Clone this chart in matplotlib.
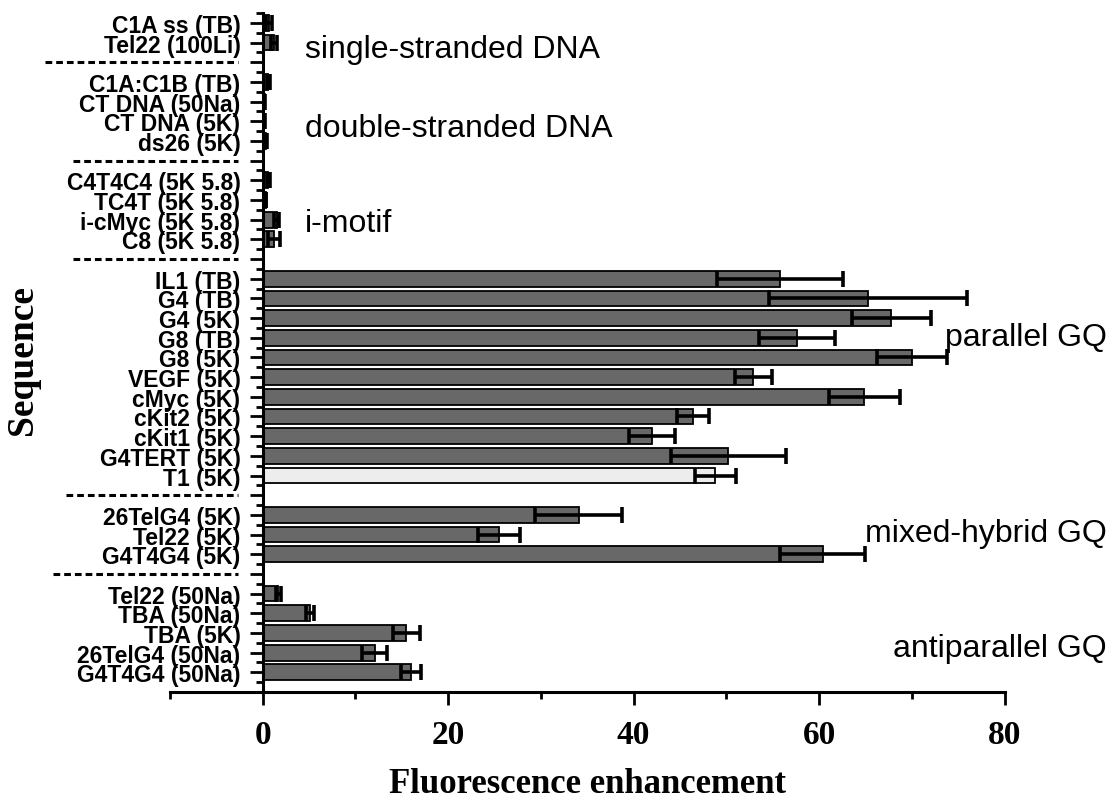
import matplotlib
matplotlib.use("Agg")
import matplotlib.pyplot as plt
from matplotlib.transforms import blended_transform_factory
import numpy as np

# ---------------- data ----------------
labels = [
    "C1A ss (TB)", "Tel22 (100Li)",
    "C1A:C1B (TB)", "CT DNA (50Na)", "CT DNA (5K)", "ds26 (5K)",
    "C4T4C4 (5K 5.8)", "TC4T (5K 5.8)", "i-cMyc (5K 5.8)", "C8 (5K 5.8)",
    "IL1 (TB)", "G4 (TB)", "G4 (5K)", "G8 (TB)", "G8 (5K)", "VEGF (5K)",
    "cMyc (5K)", "cKit2 (5K)", "cKit1 (5K)", "G4TERT (5K)", "T1 (5K)",
    "26TelG4 (5K)", "Tel22 (5K)", "G4T4G4 (5K)",
    "Tel22 (50Na)", "TBA (50Na)", "TBA (5K)", "26TelG4 (50Na)", "G4T4G4 (50Na)",
]
values = [
    0.7, 1.2,
    0.6, 0.2, 0.15, 0.35,
    0.6, 0.35, 1.5, 1.25,
    55.8, 65.3, 67.8, 57.6, 70.0, 52.9,
    64.9, 46.4, 42.0, 50.2, 48.8,
    34.1, 25.5, 60.4,
    1.7, 5.1, 15.5, 12.1, 16.0,
]
errors = [
    0.3, 0.35,
    0.15, 0.05, 0.05, 0.1,
    0.15, 0.05, 0.3, 0.65,
    6.8, 10.7, 4.3, 4.1, 3.8, 2.0,
    3.8, 1.7, 2.5, 6.2, 2.2,
    4.7, 2.3, 4.6,
    0.3, 0.4, 1.5, 1.35, 1.05,
]
group_sizes = [2, 4, 4, 11, 3, 5]
group_names = ["single-stranded DNA", "double-stranded DNA", "i-motif",
               "parallel GQ", "mixed-hybrid GQ", "antiparallel GQ"]
light_bars = ["TC4T (5K 5.8)", "T1 (5K)"]

# ---------------- layout of rows ----------------
positions = []
gap_rows = []
row = 1
for gi, n in enumerate(group_sizes):
    for _ in range(n):
        positions.append(row)
        row += 1
    if gi < len(group_sizes) - 1:
        gap_rows.append(row)
        row += 1
n_rows = row - 1  # 34

W, H = 1110, 803
fig = plt.figure(figsize=(W / 100, H / 100), dpi=100)
ax = fig.add_axes([170 / W, 1 - 693 / H, (1004.5 - 170) / W, (693 - 14) / H])

for s in ["top", "right"]:
    ax.spines[s].set_visible(False)
for s in ["left", "bottom"]:
    ax.spines[s].set_linewidth(2.2)
ax.spines["left"].set_position(("data", 0))

colors = ["#ededed" if l == "T1 (5K)" else ("#bdbdbd" if l in light_bars else "#686868")
          for l in labels]
ax.barh(positions, values, height=0.8, color=colors, edgecolor="black",
        linewidth=1.3, zorder=2)
ax.errorbar(values, positions, xerr=errors, fmt="none", ecolor="black",
            elinewidth=2.6, capsize=5.5, capthick=2.6, zorder=3)

ax.set_xlim(-10, 80)
ax.set_ylim(n_rows + 1, 0.5)

ax.set_yticks(range(1, n_rows + 1))
ytick_labels = [""] * n_rows
for p, l in zip(positions, labels):
    ytick_labels[p - 1] = l
ax.set_yticklabels(ytick_labels, fontfamily="Liberation Sans", fontweight="bold",
                   fontsize=16.5)
ax.set_yticks(np.arange(0.5, n_rows + 1.01, 1.0), minor=True)

ax.set_xticks([0, 20, 40, 60, 80])
ax.set_xticks([-10, 10, 30, 50, 70], minor=True)
ax.set_xticklabels(["0", "20", "40", "60", "80"], fontfamily="Liberation Serif",
                   fontweight="bold", fontsize=24)

ax.tick_params(axis="both", which="major", direction="out", length=9.5, width=2.0)
ax.tick_params(axis="both", which="minor", direction="out", length=5, width=2.0)
ax.tick_params(axis="y", which="major", pad=6.5)
ax.tick_params(axis="x", which="major", pad=10)

ax.set_xlabel("Fluorescence enhancement", fontfamily="Liberation Serif",
              fontweight="bold", fontsize=25)
ax.set_ylabel("Sequence", fontfamily="Liberation Serif", fontweight="bold",
              fontsize=27)
ax.xaxis.set_label_coords(0.5, (693 - 768) / (693 - 14))
ax.yaxis.set_label_coords((40 - 170) / (1004.5 - 170), 0.49)

# dashed separators in the label area
tr = blended_transform_factory(fig.transFigure, ax.transData)
sep_x0 = [45, 73, 73, 66, 53]
for g, x0 in zip(gap_rows, sep_x0):
    ax.plot([x0 / W, 238 / W], [g, g], transform=tr, color="black",
            linestyle=(0, (2.2, 1.3)), linewidth=2.2, clip_on=False)

# group annotations
ann_rows = [2.35, 6.35, 11.15, 16.95, 26.9, 32.75]
ann_left = [True, True, True, False, False, False]
for name, yr, left in zip(group_names, ann_rows, ann_left):
    if left:
        ax.text(305 / W, yr, name, transform=tr, ha="left", va="center",
                fontfamily="Liberation Sans", fontsize=23)
    else:
        ax.text(1107 / W, yr, name, transform=tr, ha="right", va="center",
                fontfamily="Liberation Sans", fontsize=23)

fig.savefig("out.png", dpi=100)
